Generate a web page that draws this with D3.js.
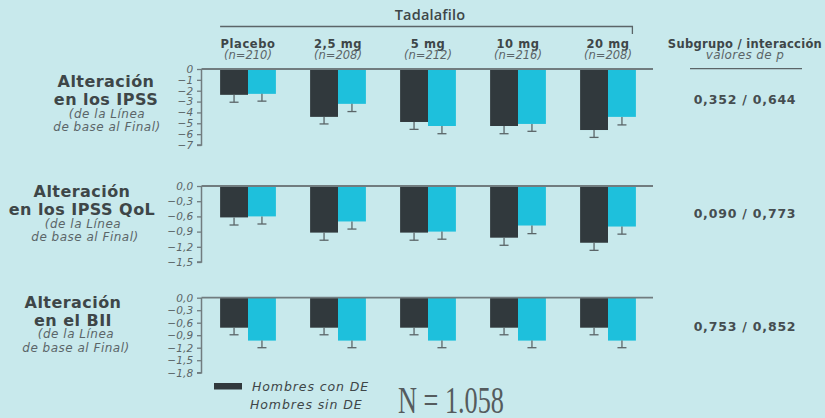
<!DOCTYPE html>
<html>
<head>
<meta charset="utf-8">
<script src="https://cdn.jsdelivr.net/npm/d3@7/dist/d3.min.js"></script>
<style>
  html, body { margin: 0; padding: 0; background: #c8e9ec; }
  svg { display: block; }
</style>
</head>
<body>
<svg id="chart" width="825" height="418"></svg>
<script>
// Dose groups
const groups = ["Placebo", "2,5 mg", "5 mg", "10 mg", "20 mg"];
const groupN = ["(n=210)", "(n=208)", "(n=212)", "(n=216)", "(n=208)"];

// Change in IPSS (baseline to end)
const ipssConDE = [-2.38, -4.41, -4.88, -5.25, -5.62];
const ipssConDEErr = [0.68, 0.65, 0.68, 0.71, 0.68];
const ipssSinDE = [-2.29, -3.21, -5.25, -5.06, -4.41];
const ipssSinDEErr = [0.67, 0.71, 0.71, 0.68, 0.74];

// Change in IPSS QoL
const qolConDE = [-0.62, -0.92, -0.92, -1.02, -1.12];
const qolConDEErr = [0.15, 0.15, 0.15, 0.15, 0.15];
const qolSinDE = [-0.60, -0.70, -0.90, -0.78, -0.80];
const qolSinDEErr = [0.15, 0.15, 0.15, 0.16, 0.15];

// Change in BII
const biiConDE = [-0.72, -0.72, -0.72, -0.72, -0.72];
const biiConDEErr = [0.17, 0.17, 0.17, 0.17, 0.17];
const biiSinDE = [-1.03, -1.03, -1.03, -1.03, -1.03];
const biiSinDEErr = [0.17, 0.17, 0.17, 0.17, 0.17];

// Axis ticks per panel
const ipssTicks = [0, -1, -2, -3, -4, -5, -6, -7];
const qolTicks = [0, -0.3, -0.6, -0.9, -1.2, -1.5];
const biiTicks = [0, -0.3, -0.6, -0.9, -1.2, -1.5, -1.8];

// Subgroup / interaction p-values
const pValues = ["0,352 / 0,644", "0,090 / 0,773", "0,753 / 0,852"];

const seriesNames = ["Hombres con DE", "Hombres sin DE"];
const totalN = "N = 1.058";

const COL_DARK = "#31393d";
const COL_CYAN = "#1ec0dc";
const COL_TEXT = "#3e4648";
const COL_AXIS = "#717c7f";
const COL_SUB = "#5b6568";

const SANS = "'DejaVu Sans', 'Open Sans', sans-serif";

// Text styles
const STYLES = {
  head:   { family: "'Open Sans', sans-serif", size: 14.5, weight: 600, ls: 0.2, fill: COL_TEXT },
  grp:    { size: 11.5, weight: 700, ls: 0.6, fill: COL_TEXT },
  grpN:   { size: 11.5, italic: true, ls: 0, fill: COL_SUB },
  colHd:  { size: 11.5, weight: 700, ls: 0.3, fill: COL_TEXT },
  colSub: { size: 12, italic: true, ls: 0.4, fill: COL_SUB },
  title:  { size: 16, weight: 700, ls: 0.45, fill: COL_TEXT },
  sub:    { size: 12, italic: true, ls: 0.5, fill: COL_SUB },
  pval:   { size: 12.5, weight: 700, ls: 0.8, fill: "#454d50" },
  legend: { size: 12.5, italic: true, ls: 0.9, fill: COL_TEXT }
};

function label(parent, str, x, y, styleName, anchor = "middle") {
  const s = STYLES[styleName];
  return parent.append("text")
    .attr("x", x).attr("y", y)
    .attr("text-anchor", anchor)
    .attr("font-family", s.family || SANS)
    .attr("font-size", s.size)
    .attr("font-weight", s.weight || 400)
    .attr("font-style", s.italic ? "italic" : "normal")
    .attr("letter-spacing", s.ls)
    .attr("fill", s.fill)
    .text(str);
}

const svg = d3.select("#chart");

const axisX = 201.5, plotRight = 653;

const x0 = d3.scaleBand().domain(groups).range([axisX + 1.5, plotRight])
  .paddingInner(0.38).paddingOuter(0.19);
const x1 = d3.scaleBand().domain([0, 1]).range([0, x0.bandwidth()]);

// Header: Tadalafilo bracket
label(svg, "Tadalafilo", 430, 20, "head");
svg.append("path")
  .attr("d", `M${x0("Placebo")},26.5H${x0("20 mg") + x0.bandwidth() - 3.5}V34`)
  .attr("fill", "none").attr("stroke", COL_SUB).attr("stroke-width", 1.3);

// Group labels
groups.forEach((g, i) => {
  const cx = x0(g) + x0.bandwidth() / 2;
  label(svg, g, cx, 47.5, "grp");
  label(svg, groupN[i], cx, 58.5, "grpN");
});

// Right column header
label(svg, "Subgrupo / interacción", 745, 47.5, "colHd");
label(svg, "valores de p", 745, 58.5, "colSub");
svg.append("line").attr("x1", 690).attr("x2", 802).attr("y1", 68.7).attr("y2", 68.7)
  .attr("stroke", COL_SUB).attr("stroke-width", 1.2);

const commaFmt = d => d3.format(".1f")(d).replace(".", ",").replace("-0,0", "0,0");

const panels = [
  { top: 69, bottom: 145, domain: [-7, 0], ticks: ipssTicks, fmt: d => d3.format("d")(d),
    con: ipssConDE, conErr: ipssConDEErr, sin: ipssSinDE, sinErr: ipssSinDEErr,
    p: pValues[0], pY: 104,
    title: [["Alteración", 106, 87.3], ["en los IPSS", 106, 105]],
    sub: [["(de la Línea", 107, 117.5], ["de base al Final)", 107, 131]] },
  { top: 186, bottom: 262, domain: [-1.5, 0], ticks: qolTicks, fmt: commaFmt,
    con: qolConDE, conErr: qolConDEErr, sin: qolSinDE, sinErr: qolSinDEErr,
    p: pValues[1], pY: 217.5,
    title: [["Alteración", 82, 197], ["en los IPSS QoL", 82, 214.5]],
    sub: [["(de la Línea", 83, 227.5], ["de base al Final)", 85, 240.5]] },
  { top: 297.7, bottom: 372.7, domain: [-1.8, 0], ticks: biiTicks, fmt: commaFmt,
    con: biiConDE, conErr: biiConDEErr, sin: biiSinDE, sinErr: biiSinDEErr,
    p: pValues[2], pY: 330.5,
    title: [["Alteración", 73, 308.3], ["en el BII", 73, 325.7]],
    sub: [["(de la Línea", 76, 337.7], ["de base al Final)", 76, 351.7]] }
];

panels.forEach(P => {
  const y = d3.scaleLinear().domain(P.domain).range([P.bottom, P.top]);
  const g = svg.append("g");

  // Bars with error whiskers
  const seriesData = [
    { vals: P.con, errs: P.conErr, color: COL_DARK },
    { vals: P.sin, errs: P.sinErr, color: COL_CYAN }
  ];
  seriesData.forEach((s, si) => {
    groups.forEach((grp, i) => {
      const bx = x0(grp) + x1(si);
      const v = s.vals[i];
      const e = v - s.errs[i];
      g.append("rect").attr("x", bx).attr("width", x1.bandwidth())
        .attr("y", y(0)).attr("height", y(v) - y(0)).attr("fill", s.color);
      const cx = bx + x1.bandwidth() / 2;
      g.append("line").attr("x1", cx).attr("x2", cx).attr("y1", y(v)).attr("y2", y(e))
        .attr("stroke", COL_SUB).attr("stroke-width", 1.3);
      g.append("line").attr("x1", cx - 4.5).attr("x2", cx + 4.5).attr("y1", y(e)).attr("y2", y(e))
        .attr("stroke", COL_SUB).attr("stroke-width", 1.3);
    });
  });

  // Y axis
  const axis = d3.axisLeft(y).tickValues(P.ticks).tickFormat(P.fmt).tickSize(4.5).tickPadding(3.5);
  const ag = g.append("g").attr("transform", `translate(${axisX},0)`).call(axis);
  ag.attr("font-family", null).attr("font-size", null);
  ag.select(".domain").attr("stroke", COL_AXIS).attr("stroke-width", 1.5)
    .attr("d", `M0,${P.top}V${P.bottom}H-4.5`);
  ag.selectAll(".tick line").attr("stroke", COL_AXIS).attr("stroke-width", 1.3);
  ag.selectAll(".tick text").attr("fill", COL_SUB).attr("font-size", 10.5)
    .attr("font-style", "italic").attr("font-family", SANS).attr("letter-spacing", 0.2);

  // Zero line
  g.append("line").attr("x1", axisX).attr("x2", plotRight).attr("y1", y(0)).attr("y2", y(0))
    .attr("stroke", COL_AXIS).attr("stroke-width", 1.8);

  // Row titles
  P.title.forEach(([t, tx, ty]) => label(g, t, tx, ty, "title"));
  P.sub.forEach(([t, tx, ty]) => label(g, t, tx, ty, "sub"));

  // p-values
  label(g, P.p, 745, P.pY, "pval");
});

// Legend
svg.append("rect").attr("x", 214).attr("y", 383).attr("width", 28).attr("height", 6.5).attr("fill", COL_DARK);
label(svg, seriesNames[0], 252, 390.5, "legend", "start");
label(svg, seriesNames[1], 250, 408.5, "legend", "start");

// Total sample size
svg.append("text").attr("x", 398).attr("y", 412.5)
  .attr("font-family", "'Liberation Serif', 'DejaVu Serif', serif")
  .attr("font-size", 37)
  .attr("textLength", 106).attr("lengthAdjust", "spacingAndGlyphs")
  .attr("fill", "#555b5d").text(totalN);
</script>
</body>
</html>
